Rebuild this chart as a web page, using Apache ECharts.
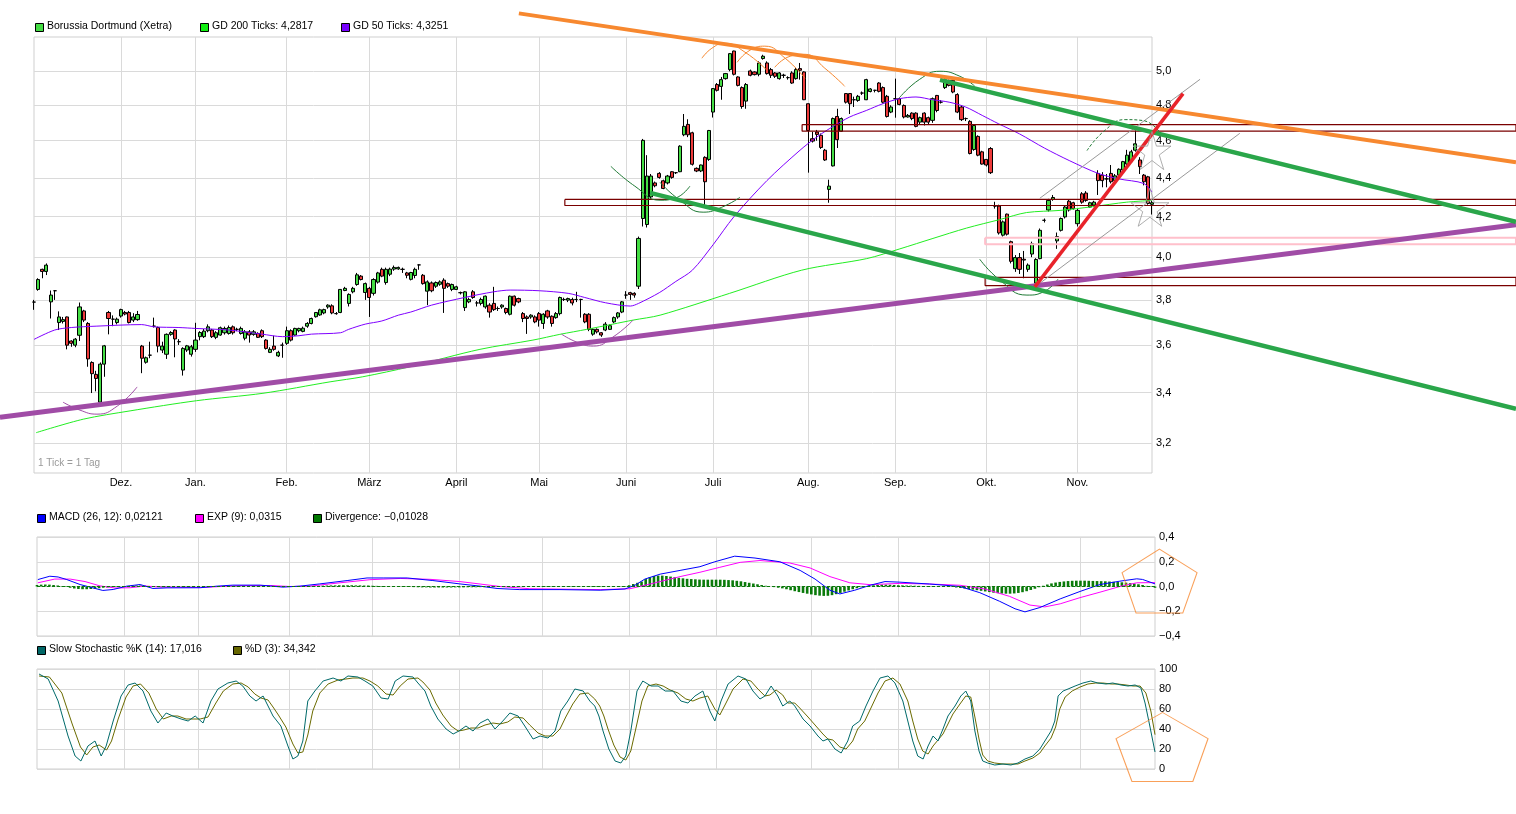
<!DOCTYPE html>
<html><head><meta charset="utf-8">
<script src="https://cdn.jsdelivr.net/npm/echarts@6/dist/echarts.min.js"></script>
<style>html,body{margin:0;padding:0;background:#fff}#c{width:1516px;height:814px}</style>
</head><body><div id="c"></div>
<script>
// ---- DATA ----
// daily candles [open, close, low, high]
const candles = [
[3.79,3.79,3.755,3.80],[3.848,3.894,3.842,3.90],[3.942,3.932,3.90,3.945],[3.932,3.962,3.915,3.97],[3.791,3.822,3.716,3.843],
[3.842,3.842,3.80,3.845],[3.698,3.723,3.665,3.748],[3.703,3.711,3.694,3.723],[3.723,3.599,3.581,3.725],[3.617,3.607,3.592,3.62],
[3.599,3.625,3.59,3.63],[3.642,3.768,3.617,3.788],[3.75,3.709,3.70,3.755],[3.694,3.54,3.507,3.70],[3.525,3.478,3.398,3.53],
[3.475,3.458,3.405,3.49],[3.361,3.518,3.355,3.525],[3.518,3.596,3.465,3.60],[3.743,3.716,3.646,3.75],[3.713,3.713,3.682,3.73],
[3.698,3.713,3.69,3.72],[3.727,3.756,3.72,3.76],[3.743,3.736,3.73,3.75],[3.743,3.698,3.694,3.75],[3.709,3.723,3.70,3.74],
[3.711,3.734,3.706,3.75],[3.595,3.543,3.48,3.60],[3.526,3.545,3.52,3.55],[3.556,3.556,3.543,3.614],[3.682,3.682,3.676,3.72],
[3.676,3.595,3.568,3.68],[3.578,3.595,3.565,3.614],[3.56,3.646,3.54,3.65],[3.646,3.654,3.64,3.66],[3.665,3.626,3.547,3.668],
[3.614,3.614,3.60,3.625],[3.493,3.585,3.47,3.59],[3.578,3.596,3.57,3.60],[3.56,3.592,3.55,3.60],[3.581,3.621,3.57,3.697],
[3.636,3.654,3.62,3.66],[3.636,3.66,3.63,3.67],[3.662,3.679,3.655,3.69],[3.665,3.636,3.63,3.67],[3.633,3.653,3.625,3.66],
[3.643,3.675,3.64,3.68],[3.653,3.672,3.645,3.68],[3.65,3.676,3.645,3.685],[3.679,3.653,3.645,3.685],[3.668,3.668,3.66,3.675],
[3.65,3.672,3.645,3.68],[3.629,3.657,3.62,3.665],[3.657,3.643,3.61,3.665],[3.646,3.657,3.64,3.665],[3.65,3.633,3.63,3.655],
[3.662,3.636,3.63,3.668],[3.621,3.585,3.58,3.625],[3.568,3.581,3.565,3.59],[3.595,3.581,3.575,3.64],[3.553,3.568,3.548,3.575],
[3.599,3.599,3.545,3.61],[3.607,3.662,3.60,3.68],[3.662,3.621,3.615,3.668],[3.643,3.672,3.64,3.675],[3.662,3.672,3.655,3.675],
[3.659,3.673,3.655,3.68],[3.682,3.694,3.675,3.70],[3.694,3.716,3.69,3.72],[3.724,3.743,3.72,3.745],[3.732,3.755,3.728,3.76],
[3.741,3.756,3.735,3.76],[3.768,3.776,3.76,3.78],[3.773,3.741,3.735,3.78],[3.738,3.738,3.733,3.745],[3.743,3.848,3.74,3.85],
[3.843,3.853,3.84,3.86],[3.784,3.825,3.77,3.83],[3.837,3.853,3.83,3.86],[3.871,3.916,3.865,3.925],[3.91,3.894,3.89,3.915],
[3.834,3.875,3.80,3.88],[3.853,3.811,3.723,3.86],[3.83,3.894,3.82,3.90],[3.882,3.925,3.875,3.93],[3.942,3.91,3.905,3.95],
[3.88,3.942,3.87,3.95],[3.919,3.943,3.91,3.95],[3.943,3.951,3.935,3.96],[3.944,3.951,3.94,3.955],[3.942,3.942,3.925,3.95],
[3.925,3.914,3.90,3.93],[3.895,3.927,3.89,3.93],[3.913,3.942,3.90,3.95],[3.963,3.963,3.94,3.965],[3.914,3.875,3.87,3.92],
[3.84,3.883,3.776,3.89],[3.878,3.842,3.835,3.885],[3.863,3.88,3.855,3.885],[3.872,3.883,3.865,3.89],[3.891,3.853,3.741,3.90],
[3.875,3.863,3.855,3.88],[3.848,3.871,3.84,3.875],[3.848,3.86,3.845,3.865],[3.833,3.833,3.825,3.838],[3.765,3.837,3.75,3.84],
[3.791,3.802,3.785,3.81],[3.837,3.811,3.805,3.845],[3.786,3.786,3.77,3.795],[3.784,3.802,3.775,3.81],[3.768,3.817,3.76,3.82],
[3.776,3.745,3.72,3.785],[3.784,3.756,3.75,3.86],[3.761,3.761,3.75,3.77],[3.768,3.776,3.76,3.78],[3.761,3.743,3.735,3.765],
[3.735,3.817,3.73,3.82],[3.817,3.776,3.77,3.82],[3.806,3.791,3.785,3.81],[3.738,3.716,3.70,3.745],[3.723,3.716,3.648,3.73],
[3.723,3.731,3.715,3.735],[3.723,3.701,3.695,3.73],[3.738,3.709,3.68,3.745],[3.694,3.735,3.67,3.74],[3.75,3.723,3.715,3.755],
[3.726,3.694,3.68,3.73],[3.72,3.738,3.715,3.745],[3.738,3.811,3.73,3.815],[3.802,3.802,3.795,3.81],[3.799,3.806,3.79,3.81],
[3.802,3.786,3.775,3.81],[3.802,3.802,3.79,3.837],[3.802,3.802,3.72,3.805],[3.735,3.701,3.695,3.74],[3.735,3.668,3.66,3.74],
[3.647,3.668,3.64,3.672],[3.668,3.657,3.65,3.672],[3.653,3.643,3.635,3.656],[3.665,3.691,3.66,3.70],[3.668,3.684,3.665,3.69],
[3.701,3.72,3.695,3.725],[3.723,3.741,3.715,3.745],[3.745,3.791,3.74,3.795],[3.822,3.822,3.805,3.84],[3.833,3.825,3.80,3.837],
[3.83,3.822,3.81,3.835],[3.863,4.091,3.85,4.10],[4.19,4.602,4.15,4.61],[4.16,4.409,4.145,4.521],[4.30,4.409,4.29,4.42],
[4.373,4.358,4.35,4.38],[4.423,4.402,4.395,4.43],[4.384,4.344,4.34,4.39],[4.373,4.409,4.365,4.415],[4.432,4.402,4.395,4.435],
[4.427,4.427,4.42,4.43],[4.432,4.57,4.43,4.575],[4.633,4.68,4.625,4.75],[4.691,4.633,4.62,4.72],[4.644,4.472,4.465,4.65],
[4.45,4.436,4.43,4.455],[4.436,4.468,4.43,4.47],[4.509,4.379,4.258,4.515],[4.498,4.657,4.49,4.66],[4.761,4.897,4.73,4.90],
[4.921,4.887,4.88,4.93],[4.91,4.95,4.832,4.966],[4.956,4.986,4.95,4.99],[5.01,5.107,5.0,5.11],[5.123,4.982,4.975,5.125],
[4.966,4.916,4.91,4.97],[4.903,4.793,4.78,4.91],[4.824,4.921,4.78,4.93],[5.002,4.976,4.97,5.01],[4.996,4.98,4.975,5.0],
[4.982,5.05,4.97,5.06],[5.077,5.091,5.07,5.10],[5.05,4.986,4.98,5.06],[5.01,4.976,4.96,5.02],[4.99,4.97,4.96,4.995],
[4.956,4.99,4.95,4.995],[4.976,4.976,4.96,4.985],[4.962,4.962,4.95,4.97],[4.99,4.93,4.925,5.0],[4.956,5.01,4.95,5.02],
[5.016,5.006,4.95,5.05],[4.996,4.832,4.83,5.0],[4.809,4.657,4.427,4.81],[4.611,4.598,4.59,4.65],[4.648,4.635,4.60,4.66],
[4.63,4.563,4.555,4.64],[4.548,4.495,4.49,4.555],[4.339,4.356,4.27,4.39],[4.463,4.724,4.46,4.73],[4.736,4.606,4.56,4.78],
[4.653,4.724,4.65,4.73],[4.868,4.818,4.81,4.87],[4.868,4.809,4.75,4.87],[4.832,4.832,4.79,4.85],[4.828,4.852,4.82,4.86],
[4.871,4.871,4.86,4.88],[4.832,4.95,4.83,4.955],[4.88,4.895,4.875,4.90],[4.887,4.887,4.875,4.89],[4.93,4.881,4.875,4.935],
[4.903,4.818,4.81,4.91],[4.852,4.736,4.73,4.86],[4.761,4.79,4.755,4.80],[4.838,4.838,4.729,4.956],[4.838,4.805,4.80,4.845],
[4.799,4.733,4.725,4.805],[4.733,4.742,4.73,4.75],[4.755,4.724,4.715,4.76],[4.755,4.68,4.675,4.76],[4.704,4.729,4.69,4.735],
[4.755,4.704,4.685,4.76],[4.729,4.704,4.69,4.735],[4.714,4.838,4.70,4.845],[4.857,4.77,4.76,4.86],[4.818,4.818,4.81,4.83],
[4.903,4.95,4.895,4.96],[4.946,4.916,4.91,4.95],[4.946,4.877,4.87,4.95],[4.862,4.761,4.755,4.87],[4.79,4.718,4.71,4.80],
[4.724,4.724,4.71,4.73],[4.708,4.53,4.525,4.715],[4.552,4.685,4.545,4.69],[4.624,4.521,4.515,4.63],[4.539,4.473,4.47,4.545],
[4.498,4.468,4.46,4.50],[4.557,4.427,4.42,4.565],[4.253,4.253,4.24,4.275],[4.253,4.118,4.11,4.26],[4.107,4.173,4.10,4.18],
[4.212,4.112,4.105,4.215],[4.075,3.98,3.97,4.08],[3.945,3.998,3.93,4.01],[3.998,3.942,3.92,4.02],[3.99,3.986,3.90,4.03],
[3.942,3.962,3.93,3.97],[4.015,4.066,4.0,4.075],[3.877,3.989,3.865,3.995],[3.993,4.131,3.99,4.14],[4.181,4.181,4.17,4.19],
[4.233,4.282,4.225,4.29],[4.287,4.297,4.28,4.31],[4.079,4.10,4.04,4.12],[4.131,4.19,4.125,4.195],[4.198,4.248,4.19,4.255],
[4.278,4.233,4.225,4.285],[4.27,4.24,4.235,4.275],[4.164,4.231,4.15,4.24],[4.316,4.273,4.265,4.325],[4.32,4.282,4.275,4.33],
[4.248,4.27,4.245,4.275],[4.258,4.273,4.25,4.28],[4.423,4.385,4.31,4.44],[4.414,4.385,4.35,4.43],[4.394,4.394,4.35,4.42],
[4.423,4.379,4.37,4.468],[4.385,4.41,4.38,4.42],[4.414,4.445,4.41,4.45],[4.441,4.486,4.435,4.49],[4.473,4.521,4.465,4.55],
[4.486,4.539,4.48,4.55],[4.548,4.583,4.54,4.657],[4.495,4.459,4.42,4.51],[4.414,4.379,4.36,4.42],[4.405,4.266,4.26,4.41],
[4.262,4.27,4.21,4.28]
];
const N = candles.length;
const days = candles.map((_, i) => String(i));

// month starts (candle index) and their labels
const monthIdx = [21,39,61,81,102,122,143,164,187,208,230,252];
const monthNames = ['Dez.','Jan.','Feb.','März','April','Mai','Juni','Juli','Aug.','Sep.','Okt.','Nov.'];
const priceTicks = [3.2,3.4,3.6,3.8,4.0,4.2,4.4,4.6,4.8,5.0];

// moving averages [index, price]
const ma200 = [[0.5,3.24],[11.9,3.293],[23.2,3.326],[39.3,3.367],[55.3,3.397],[71.5,3.444],[79.4,3.465],[90.8,3.507],[107.7,3.581],[120.5,3.621],[127,3.646],[133.5,3.668],[139.8,3.691],[144.7,3.709],[151.2,3.731],[168,3.83],[185.4,3.938],[201.1,3.993],[209.1,4.04],[217.1,4.091],[225.2,4.142],[233.3,4.185],[239.7,4.22],[247.8,4.231],[255.7,4.25],[263.9,4.273],[270,4.2817]];
const ma50 = [[0,3.624],[5,3.665],[9,3.676],[15,3.682],[26,3.689],[29,3.679],[35,3.676],[39,3.672],[47,3.665],[55,3.647],[60,3.636],[64,3.640],[67,3.647],[74,3.653],[76,3.668],[80,3.691],[84,3.705],[88,3.731],[91,3.745],[96,3.776],[104,3.811],[111,3.837],[115,3.845],[122,3.842],[129,3.830],[133,3.811],[138,3.787],[144,3.772],[146,3.784],[151,3.833],[155,3.885],[159,3.938],[164,4.06],[169,4.198],[177,4.385],[185,4.548],[189,4.62],[193,4.68],[197,4.733],[201,4.77],[205,4.809],[209,4.838],[213,4.848],[217,4.832],[221,4.818],[225,4.79],[229,4.742],[233,4.694],[238,4.638],[244,4.56],[250,4.492],[257,4.423],[262,4.394],[268,4.37],[270,4.3251]];

// MACD panel
const macd = [[0.2,0.056],[3.1,0.083],[5.1,0.077],[7.2,0.056],[10.4,0.016],[13.5,-0.011],[15.9,-0.032],[18.4,-0.024],[21.7,0.003],[24.9,0.016],[28,-0.016],[31.4,-0.011],[39.4,-0.01],[43.5,0.003],[47.3,0.011],[53.9,0.011],[59.4,-0.005],[63.5,0.003],[68.3,0.021],[74.9,0.048],[79.7,0.069],[83.6,0.069],[89.4,0.069],[95.6,0.048],[102.1,0.021],[107,0.003],[111.1,-0.016],[116.6,-0.025],[126.3,-0.025],[136,-0.03],[142,-0.02],[144.4,0.01],[146.8,0.06],[150.5,0.1],[155.3,0.13],[160.1,0.16],[163.7,0.2],[168.5,0.245],[173.4,0.23],[179.4,0.2],[184.3,0.13],[187.9,0.06],[191.5,-0.03],[193.9,-0.06],[197.5,-0.03],[201.2,0.01],[204.8,0.04],[208.4,0.035],[215.6,0.02],[222.9,0.0],[227.7,-0.05],[232.5,-0.12],[236.2,-0.18],[238.6,-0.205],[242.2,-0.17],[247.1,-0.1],[251.9,-0.04],[256.7,0.016],[261.5,0.043],[265.6,0.062],[267,0.057],[270,0.02121]];
const signal = [[0.2,0.03],[4.3,0.06],[8,0.06],[11.6,0.04],[15.2,0.005],[18.8,-0.012],[22.5,-0.01],[26.1,0.004],[29.7,-0.004],[39.4,-0.008],[49,0.007],[56.3,0.008],[61.1,0.0],[65.9,0.003],[73.2,0.03],[80.4,0.055],[87.7,0.065],[94.9,0.058],[102.1,0.04],[107,0.02],[111.8,0.0],[119,-0.018],[136,-0.025],[143.2,-0.018],[148.1,0.02],[155.3,0.08],[160.1,0.115],[164.9,0.155],[169.8,0.195],[174.6,0.21],[181.8,0.19],[186.7,0.15],[191.5,0.08],[196.3,0.03],[201.2,0.015],[208.4,0.025],[215.6,0.02],[222.9,0.01],[228.9,-0.02],[234.9,-0.08],[239.8,-0.15],[243.4,-0.165],[247.1,-0.14],[251.9,-0.09],[256.7,-0.046],[261.5,0.0],[265.6,0.03],[270,0.0315]];
const divergence = [
0.012,0.015,0.016,0.015,0.012,0.008,0.004,-0.004,-0.01,-0.016,
-0.02,-0.022,-0.022,-0.02,-0.018,-0.014,-0.01,-0.008,-0.006,-0.004,
-0.002,0,0.004,0.006,0.008,0.008,0.006,0.002,-0.002,-0.004,
-0.005,-0.005,-0.004,-0.004,-0.003,-0.003,-0.003,-0.002,-0.002,-0.002,
-0.001,0.002,0.003,0.003,0.004,0.004,0.004,0.004,0.004,0.003,
0.003,0.003,0.002,0.002,0.001,0,-0.001,-0.002,-0.002,-0.002,
-0.002,-0.001,0,0.002,0.003,0.004,0.004,0.005,0.006,0.007,
0.008,0.009,0.009,0.01,0.01,0.01,0.01,0.009,0.009,0.008,
0.008,0.006,0.005,0.004,0.003,0.002,0.001,0,-0.002,-0.003,
-0.004,-0.005,-0.006,-0.007,-0.007,-0.008,-0.008,-0.008,-0.008,-0.008,
-0.008,-0.007,-0.007,-0.007,-0.006,-0.006,-0.006,-0.005,-0.005,-0.005,
-0.005,-0.004,-0.004,-0.004,-0.003,-0.002,-0.002,-0.001,0,0,
-0.001,-0.002,-0.002,-0.003,-0.003,-0.003,-0.002,-0.002,-0.002,-0.003,
-0.003,-0.003,-0.004,-0.004,-0.004,-0.004,-0.004,-0.003,-0.002,-0.001,
0,0.002,0.004,0.01,0.02,0.03,0.04,0.06,0.075,0.085,
0.088,0.088,0.085,0.08,0.075,0.07,0.066,0.062,0.06,0.058,
0.056,0.055,0.055,0.055,0.055,0.055,0.054,0.052,0.05,0.046,
0.042,0.036,0.03,0.024,0.018,0.012,0.006,0,-0.005,-0.01,
-0.015,-0.022,-0.03,-0.038,-0.045,-0.052,-0.058,-0.064,-0.07,-0.074,
-0.076,-0.075,-0.07,-0.062,-0.052,-0.042,-0.032,-0.022,-0.014,-0.006,
0,0.006,0.01,0.013,0.015,0.015,0.014,0.012,0.01,0.009,
0.008,0.007,0.006,0.005,0.004,0.003,0.002,0.001,0,-0.001,
-0.002,-0.004,-0.008,-0.012,-0.016,-0.02,-0.025,-0.03,-0.035,-0.04,
-0.045,-0.05,-0.054,-0.057,-0.058,-0.058,-0.056,-0.052,-0.046,-0.038,
-0.028,-0.018,-0.006,0.006,0.016,0.025,0.032,0.037,0.041,0.044,
0.046,0.047,0.047,0.047,0.046,0.045,0.044,0.043,0.042,0.04,
0.038,0.036,0.034,0.031,0.027,0.023,0.018,0.012,0.005,-0.003,
-0.01028
];

// Slow stochastic
const stochK = [[0.5,95],[2.7,90],[5.1,68],[7.5,33],[9.2,13],[10.6,8],[12.3,23],[14,28],[15.5,13],[16.7,23],[18.4,48],[20.3,73],[22,84],[23.7,86],[25.6,78],[27.5,58],[29.2,46],[31.2,56],[32.8,53],[34.8,50],[36.5,48],[38.2,53],[40.1,46],[42,68],[43.7,80],[46.1,86],[48.1,88],[49.7,83],[51.4,73],[52.9,68],[54.6,73],[55.8,63],[57,53],[58.9,43],[60.6,23],[61.8,10],[63,13],[64.2,28],[65.4,68],[67.1,78],[69.1,88],[71.5,91],[73.4,88],[75.1,93],[77.5,92],[79.2,88],[81.1,83],[83.1,71],[84.8,70],[86.5,88],[88.4,93],[90.8,92],[92,86],[93.7,78],[95.1,63],[96.8,50],[98.8,40],[100.5,35],[101.9,38],[103.6,43],[105.3,38],[107,46],[108.9,50],[110.6,40],[112.5,48],[114.2,56],[116.2,53],[117.8,43],[119.8,30],[121.5,33],[123.4,31],[125.1,38],[126.5,58],[128.2,68],[129.9,80],[131.9,78],[133.5,68],[134.7,63],[135.7,53],[136.7,38],[138.1,20],[139.6,8],[141,6],[142.2,13],[143.4,38],[144.9,78],[146.3,88],[148.3,83],[150,83],[151.7,78],[153.6,78],[155.5,68],[157.2,66],[158.9,73],[160.8,78],[162.5,58],[163.7,48],[165.2,68],[166.9,85],[169.3,93],[171.2,90],[172.9,78],[174.6,70],[175.8,73],[177.3,83],[178.9,73],[180.1,63],[181.8,68],[183,63],[185,50],[186.7,43],[188.6,33],[189.8,28],[191,30],[192.7,20],[194.2,16],[195.8,28],[197,43],[198.7,48],[200.2,63],[201.9,78],[203.6,91],[205.5,93],[207.2,86],[209.1,68],[210.3,48],[211.5,28],[212.7,13],[214,10],[215.2,23],[216.4,33],[217.6,28],[218.8,40],[220,53],[221.7,63],[223.1,73],[224.3,78],[225.5,68],[226.5,38],[227.5,18],[228.4,8],[229.6,6],[231.3,4],[233.3,5],[235.2,4],[236.9,6],[238.6,10],[240.5,13],[242.2,20],[243.4,28],[244.9,38],[245.8,48],[246.6,73],[247.8,78],[249,80],[250.7,83],[252.6,86],[254.5,88],[256.2,86],[258.2,85],[259.8,86],[261.8,84],[263.5,83],[265.2,84],[266.6,81],[267.6,66],[268.8,42],[270,17.016]];
const stochD = [[0.5,93],[3,92],[6,76],[8.5,45],[10.5,22],[12,14],[13.5,22],[15,24],[16.8,19],[18,28],[19.6,50],[21.5,72],[23.2,83],[25,85],[27,76],[28.8,60],[30.5,50],[32.4,53],[34,53],[36,50],[37.7,50],[39.4,50],[41.3,52],[43.2,66],[45,78],[47.3,85],[49.3,86],[51,82],[52.6,75],[54.1,71],[55.8,69],[57,62],[58.3,54],[60.1,42],[61.8,25],[63,16],[64.2,17],[65.4,34],[66.6,58],[68.3,76],[70.3,85],[72.7,89],[74.6,90],[76.3,91],[78.7,91],[80.4,88],[82.3,83],[84.3,75],[86,74],[87.7,83],[89.6,90],[92,91],[93.2,87],[94.9,79],[96.3,66],[98,54],[100,43],[101.7,38],[103.1,39],[104.8,41],[106.5,41],[108.2,44],[110.1,46],[111.8,45],[113.7,47],[115.4,52],[117.4,51],[119,44],[121,36],[122.7,33],[124.6,33],[126.3,40],[127.7,52],[129.4,65],[131.1,75],[133.1,76],[134.7,70],[135.9,63],[136.9,53],[137.9,40],[139.3,24],[140.8,12],[142.2,9],[143.4,18],[144.6,40],[146.1,68],[147.5,83],[149.5,85],[151.2,83],[152.9,79],[154.8,76],[156.7,70],[158.4,68],[160.1,71],[162,73],[163.7,60],[164.9,54],[166.4,66],[168.1,80],[170.5,90],[172.4,88],[174.1,80],[175.8,73],[177,74],[178.5,79],[180.1,74],[181.3,66],[183,66],[184.2,61],[186.2,52],[187.9,44],[189.8,35],[191,30],[192.2,29],[193.9,22],[195.4,20],[197,28],[198.2,40],[199.9,48],[201.4,61],[203.1,76],[204.8,88],[206.7,91],[208.4,85],[210.3,68],[211.5,48],[212.7,30],[213.9,18],[215.2,15],[216.4,23],[217.6,29],[218.8,35],[220,45],[221.2,55],[222.9,65],[224.3,73],[225.5,72],[226.5,52],[227.5,30],[228.4,14],[229.6,8],[231.3,6],[233.3,5],[235.2,5],[236.9,5],[238.6,8],[240.5,11],[242.2,16],[243.4,23],[244.9,31],[246,42],[247,60],[248.3,72],[250,78],[251.9,82],[253.8,85],[255.7,86],[257.4,86],[259.4,85],[261,85],[263,84],[264.7,83],[266.4,83],[267.8,76],[269,58],[270,34.342]];

// drawn trend lines / levels [index, price]
const trendOrange = [[117.1,5.36],[357.9,4.483]];
const trendGreenUpper = [[218.8,4.949],[357.9,4.173]];
const trendGreenLower = [[148.8,4.321],[357.9,3.334]];
const trendPurple = [[-8.21,3.301],[357.9,4.159]];
const trendRed = [[241.7,3.860],[277.5,4.868]];
const channelGrey1 = [[242.9,4.293],[281.6,4.952]];
const channelGrey2 = [[241.7,3.859],[291.2,4.641]];
const zoneA = [128.2,357.9,4.287,4.256];
const zoneB = [185.5,357.9,4.690,4.653];
const zoneC = [229.7,357.9,3.904,3.866];
const zoneP = [229.7,357.9,4.094,4.063];
const arcPurple1 = [[7.0,3.361],[11.1,3.329],[15.2,3.313],[20.1,3.345],[24.9,3.423]];
const arcPurple2 = [[127.4,3.647],[131.1,3.612],[135.1,3.595],[139.8,3.634],[144.7,3.709]];
const arcGreen1 = [[139.3,4.461],[145.1,4.356],[151.2,4.283],[154.8,4.293],[158.4,4.356]];
const arcGreen2 = [[151.2,4.376],[156,4.283],[161.6,4.222],[166.1,4.247],[170.5,4.298]];
const arcGreen3 = [[228.4,3.990],[233.3,3.891],[239.8,3.822],[244.1,3.84],[247.3,3.896]];
const arcGreen4 = [[209.1,4.846],[213.9,4.952],[218.8,5.0],[223.6,4.970],[227.2,4.911]];
const arcGreen5 = [[254.3,4.546],[258.6,4.657],[263.5,4.718],[267.8,4.713],[271.9,4.646]];
const arcOrange1 = [[161.3,5.079],[163.7,5.140],[166.8,5.171],[171.7,5.116],[177.0,5.006]];
const arcOrange2 = [[169.8,5.054],[172.9,5.128],[176.5,5.153],[181.4,5.079],[186.2,4.958]];
const arcOrange3 = [[178.9,5.024],[182.6,5.091],[186.2,5.103],[191.0,5.018],[195.8,4.911]];
const stars = [[270,4.546],[269.5,4.247]];
const pentagonMacd = [[271.1,0.044]];
const pentagonStoch = [[271.7,22]];

// ---- CHART ----
const FONT = '"Liberation Sans", Arial, Helvetica, sans-serif';
const GRID = '#dadada';
const L = Math.log;
const lnPts = pts => pts.map(p => [p[0], L(p[1])]);
const rectPts = z => lnPts([[z[0],z[2]],[z[1],z[2]],[z[1],z[3]],[z[0],z[3]],[z[0],z[2]]]);
const isMonth = i => monthIdx.indexOf(i) >= 0;

// layout of main panel
const MAIN = { left: 34, width: 1118, top: 37, height: 436 };
const W = 1516, H = 814;
const yMinLn = L(3.087), yMaxLn = L(5.21);
const pxPerLn = MAIN.height / (yMaxLn - yMinLn);
const pxPerIdx = MAIN.width / (N - 1);
// overlay grid covering whole canvas, same scale as main panel (for drawings that leave the plot)
const ovX = { min: -MAIN.left / pxPerIdx, max: (W - MAIN.left) / pxPerIdx };
const ovY = { max: yMaxLn + MAIN.top / pxPerLn, min: yMinLn - (H - MAIN.top - MAIN.height) / pxPerLn };

const catAxis = (g, showLabel) => ({
  type: 'category', gridIndex: g, data: days, boundaryGap: false,
  axisLine: { show: false }, axisTick: { show: false },
  axisLabel: { show: showLabel, interval: (i) => isMonth(i),
    formatter: (v) => { const k = monthIdx.indexOf(+v); return k >= 0 ? monthNames[k] : ''; },
    color: '#000', fontSize: 11, fontFamily: FONT, margin: 4 },
  splitLine: { show: true, interval: (i) => isMonth(i), lineStyle: { color: GRID, width: 1 } }
});
const valX = g => ({ type: 'value', gridIndex: g, min: 0, max: N - 1, show: false });

function line(data, xi, yi, color, width, extra) {
  return Object.assign({
    type: 'line', data: data, xAxisIndex: xi, yAxisIndex: yi, showSymbol: false, symbol: 'none',
    clip: false, silent: true, z: 4, animation: false,
    lineStyle: { color: color, width: width }
  }, extra || {});
}
const ov = (data, color, width, extra) => line(data, 6, 3, color, width, extra);

const starPath = 'path://M50,0 L61.17,34.63 L97.55,34.55 L68.07,55.87 L79.39,90.45 L50,69 L20.61,90.45 L31.93,55.87 L2.45,34.55 L38.83,34.63 Z';
const pentPath1 = 'path://M37.4,0 L75,23.7 L60.7,64.3 L14,64.3 L0,23.7 Z';
const pentPath2 = 'path://M46.7,0 L92.3,26 L77,68.7 L16,68.7 L0,26 Z';

function legendItem(x, y, color, text) {
  return [
    { type: 'rect', left: x, top: y - 4, shape: { x: 0, y: 0, width: 8, height: 8 }, style: { fill: color, stroke: '#000', lineWidth: 1 } },
    { type: 'text', left: x + 12, top: y - 6, style: { text: text, fill: '#000', font: '10.5px ' + FONT } }
  ];
}

const option = {
  animation: false,
  backgroundColor: '#fff',
  grid: [
    { left: MAIN.left, width: MAIN.width, top: MAIN.top, height: MAIN.height, show: true, borderColor: '#cfcfcf', borderWidth: 1 },
    { left: 37, width: 1118, top: 537, height: 99, show: true, borderColor: '#cfcfcf', borderWidth: 1 },
    { left: 37, width: 1118, top: 669, height: 100, show: true, borderColor: '#cfcfcf', borderWidth: 1 },
    { left: 0, width: W, top: 0, height: H, show: false }
  ],
  xAxis: [catAxis(0, true), valX(0), catAxis(1, false), valX(1), catAxis(2, false), valX(2),
    { type: 'value', gridIndex: 3, min: ovX.min, max: ovX.max, show: false }],
  yAxis: [
    { type: 'value', gridIndex: 0, position: 'right', min: yMinLn, max: yMaxLn,
      axisLine: { show: false },
      axisTick: { show: false, customValues: priceTicks.map(L) },
      axisLabel: { customValues: priceTicks.map(L), formatter: v => Math.exp(v).toFixed(1).replace('.', ','),
        color: '#000', fontSize: 11, fontFamily: FONT, margin: 4 },
      splitLine: { show: true, lineStyle: { color: GRID } } },
    { type: 'value', gridIndex: 1, position: 'right', min: -0.4, max: 0.4, interval: 0.2,
      axisLine: { show: false }, axisTick: { show: false },
      axisLabel: { formatter: v => (v < -1e-9 ? '\u2212' : '') + Math.abs(v).toFixed(1).replace('.', ','),
        color: '#000', fontSize: 11, fontFamily: FONT, margin: 4 },
      splitLine: { show: true, lineStyle: { color: GRID } } },
    { type: 'value', gridIndex: 2, position: 'right', min: 0, max: 100, interval: 20,
      axisLine: { show: false }, axisTick: { show: false },
      axisLabel: { color: '#000', fontSize: 11, fontFamily: FONT, margin: 4 },
      splitLine: { show: true, lineStyle: { color: GRID } } },
    { type: 'value', gridIndex: 3, min: ovY.min, max: ovY.max, show: false }
  ],
  graphic: { elements: [].concat(
    legendItem(35, 27, '#44dd44', 'Borussia Dortmund (Xetra)'),
    legendItem(200, 27, '#11ee11', 'GD 200 Ticks: 4,2817'),
    legendItem(341, 27, '#7700ff', 'GD 50 Ticks: 4,3251'),
    legendItem(37, 518, '#0000ff', 'MACD (26, 12): 0,02121'),
    legendItem(195, 518, '#ff00ff', 'EXP (9): 0,0315'),
    legendItem(313, 518, '#007700', 'Divergence: \u22120,01028'),
    legendItem(37, 650, '#006666', 'Slow Stochastic %K (14): 17,016'),
    legendItem(233, 650, '#666600', '%D (3): 34,342'),
    [{ type: 'text', left: 38, top: 458, style: { text: '1 Tick = 1 Tag', fill: '#9a9a9a', font: '10px ' + FONT } }]
  ) },
  series: [
    { name: 'Borussia Dortmund (Xetra)', type: 'candlestick', xAxisIndex: 0, yAxisIndex: 0,
      data: candles.map(c => c.map(L)), barWidth: 3.6, z: 2, silent: true,
      itemStyle: { color: '#44dd44', color0: '#ee3b3b', borderColor: '#000', borderColor0: '#000', borderColorDoji: '#000', borderWidth: 1 } },
    line(lnPts(ma200), 1, 0, '#22ee22', 1, { z: 3, smooth: 0.3 }),
    line(lnPts(ma50), 1, 0, '#7f00ff', 1, { z: 3, smooth: 0.3 }),
    // levels (rectangles)
    ov(rectPts(zoneA), '#7a0000', 1.2),
    ov(rectPts(zoneB), '#7a0000', 1.2),
    ov(rectPts(zoneC), '#7a0000', 1.2),
    ov(rectPts(zoneP), '#ffc0cb', 2),
    // grey channel
    ov(lnPts(channelGrey1), '#999999', 1),
    ov(lnPts(channelGrey2), '#999999', 1),
    // arcs
    ov(lnPts(arcPurple1), '#a04ca6', 1, { smooth: true }),
    ov(lnPts(arcPurple2), '#a04ca6', 1, { smooth: true }),
    ov(lnPts(arcGreen1), '#1f7a35', 1, { smooth: true }),
    ov(lnPts(arcGreen2), '#1f7a35', 1, { smooth: true }),
    ov(lnPts(arcGreen3), '#1f7a35', 1, { smooth: true }),
    ov(lnPts(arcGreen4), '#1f7a35', 1, { smooth: true }),
    ov(lnPts(arcGreen5), '#1f7a35', 1, { smooth: true, lineStyle: { color: '#1f7a35', width: 1, type: [3, 2] } }),
    ov(lnPts(arcOrange1), '#f7882f', 1, { smooth: true }),
    ov(lnPts(arcOrange2), '#f7882f', 1, { smooth: true }),
    ov(lnPts(arcOrange3), '#f7882f', 1, { smooth: true }),
    // trend lines
    ov(lnPts(trendPurple), '#a04ca6', 5, { z: 5 }),
    ov(lnPts(trendGreenLower), '#2aa64a', 4.5, { z: 5 }),
    ov(lnPts(trendGreenUpper), '#2aa64a', 4.5, { z: 5 }),
    ov(lnPts(trendOrange), '#f7882f', 4, { z: 5 }),
    ov(lnPts(trendRed), '#e8232a', 3.5, { z: 6 }),
    { type: 'scatter', xAxisIndex: 6, yAxisIndex: 3, data: lnPts(stars), symbol: starPath, symbolSize: [38, 38],
      clip: false, silent: true, z: 6, itemStyle: { color: 'rgba(0,0,0,0)', borderColor: '#9a9a9a', borderWidth: 1 } },
    // MACD panel
    { name: 'Divergence', type: 'bar', xAxisIndex: 2, yAxisIndex: 1, data: divergence, barWidth: 2.6,
      silent: true, z: 2, itemStyle: { color: '#0a7a0a' },
      markLine: { silent: true, symbol: 'none', label: { show: false },
        lineStyle: { color: '#0a7a0a', type: [3, 2], width: 1 }, data: [{ yAxis: 0 }] } },
    line(signal, 3, 1, '#ff00ff', 1, { z: 3 }),
    line(macd, 3, 1, '#0000ff', 1, { z: 3 }),
    { type: 'scatter', xAxisIndex: 3, yAxisIndex: 1, data: pentagonMacd, symbol: pentPath1, symbolSize: [75, 64],
      clip: false, silent: true, z: 6, itemStyle: { color: 'rgba(0,0,0,0)', borderColor: '#f7882f', borderWidth: 1 } },
    // Stochastic panel
    line(stochD, 5, 2, '#6b6b00', 1, { z: 3 }),
    line(stochK, 5, 2, '#006a6a', 1, { z: 3 }),
    { type: 'scatter', xAxisIndex: 5, yAxisIndex: 2, data: pentagonStoch, symbol: pentPath2, symbolSize: [92, 69],
      clip: false, silent: true, z: 6, itemStyle: { color: 'rgba(0,0,0,0)', borderColor: '#f7882f', borderWidth: 1 } }
  ]
};

const chart = echarts.init(document.getElementById('c'), null, { renderer: 'canvas' });
chart.setOption(option);
</script>
</body></html>
